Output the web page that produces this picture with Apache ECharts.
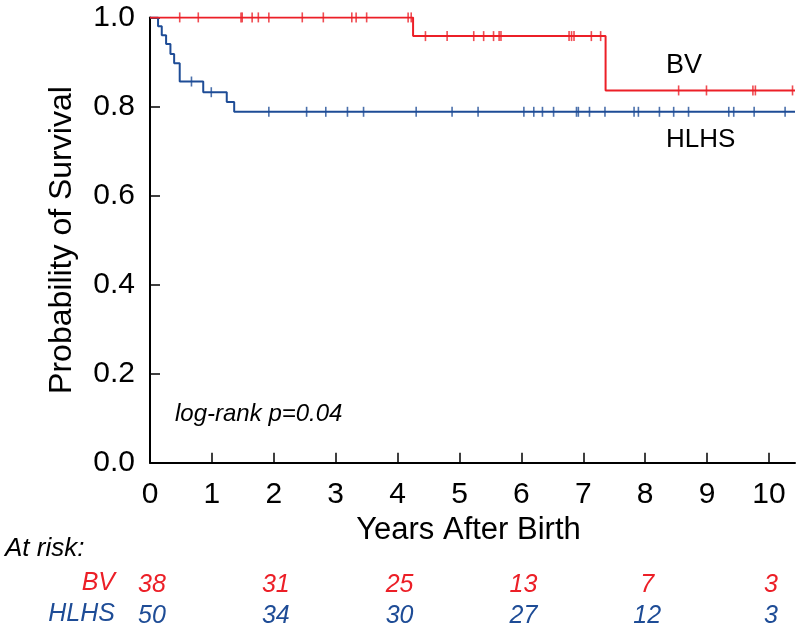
<!DOCTYPE html>
<html><head><meta charset="utf-8">
<script src="https://cdn.jsdelivr.net/npm/echarts@6/dist/echarts.min.js"></script>
<style>html,body{margin:0;padding:0;background:#fff}#c{width:800px;height:633px}</style>
</head><body><div id="c"></div>
<script>
// ---- data ----
const xTicks = [0,1,2,3,4,5,6,7,8,9,10];
const yTicks = [0,0.2,0.4,0.6,0.8,1.0];
// Kaplan-Meier step points [time, survival]
const bvSteps = [[0,1.0],[4.25,0.958],[7.36,0.836],[10.42,0.836]];
const hlhsSteps = [[0,1.0],[0.13,0.98],[0.19,0.96],[0.26,0.94],[0.33,0.918],[0.39,0.897],[0.48,0.856],[0.86,0.832],[1.24,0.81],[1.36,0.788],[10.42,0.788]];
// censoring times
const bvCensor = [0.48,0.78,1.47,1.49,1.65,1.75,1.92,2.46,2.80,3.26,3.33,3.50,4.17,4.22,
  4.45,4.80,5.23,5.39,5.55,5.64,5.67,6.77,6.81,6.85,7.13,7.28,
  8.54,8.99,9.74,9.78,10.38];
const hlhsCensor = [0.67,0.99,1.92,2.53,2.84,3.19,3.45,4.30,4.88,5.30,6.04,6.20,6.34,6.52,6.89,6.92,7.10,7.35,7.82,7.89,8.23,8.46,8.70,9.35,9.43,9.76,10.26];
// at-risk table
const riskTimes = [0,2,4,6,8,10];
const bvRisk = [38,31,25,13,7,3];
const hlhsRisk = [50,34,30,27,12,3];

const RED = '#EC1F27', BLUE = '#1E4C96';
const FONT = 'Liberation Sans, Arial, Helvetica, sans-serif';

function survAt(steps, t){ let s = steps[0][1]; for (const p of steps){ if (p[0] <= t) s = p[1]; } return s; }

const chart = echarts.init(document.getElementById('c'), null, {renderer:'canvas'});
const option = {
  animation:false,
  backgroundColor:'#fff',
  grid:{left:150, top:17.4, width:645, height:445.3},
  xAxis:{type:'value', min:0, max:10.42, interval:1,
    name:'Years After Birth', nameLocation:'middle', nameGap:50,
    nameTextStyle:{fontSize:31, color:'#000', fontFamily:FONT, padding:[0,8,0,0]},
    axisLine:{lineStyle:{color:'#000', width:2}},
    axisTick:{inside:true, length:10, lineStyle:{color:'#000', width:1.5}, customValues:xTicks},
    axisLabel:{fontSize:30, color:'#000', fontFamily:FONT, margin:17, customValues:xTicks},
    splitLine:{show:false}},
  yAxis:{type:'value', min:0, max:1, interval:0.2,
    name:'Probability of Survival', nameLocation:'middle', nameGap:72,
    nameTextStyle:{fontSize:32, color:'#000', fontFamily:FONT},
    axisLine:{lineStyle:{color:'#000', width:2}},
    axisTick:{inside:true, length:10, lineStyle:{color:'#000', width:1.5}, customValues:yTicks},
    axisLabel:{fontSize:30, color:'#000', fontFamily:FONT, margin:15, customValues:yTicks, formatter:v=>v.toFixed(1)},
    splitLine:{show:false}},
  series:[
    {type:'line', step:'end', data:hlhsSteps, symbol:'none', lineStyle:{color:BLUE, width:2}, z:3},
    {type:'line', step:'end', data:bvSteps, symbol:'none', lineStyle:{color:RED, width:2}, z:4},
    {type:'scatter', data:hlhsCensor.map(t=>[t, survAt(hlhsSteps,t)]), symbol:'rect', symbolSize:[1.6,10], itemStyle:{color:BLUE}, z:3},
    {type:'scatter', data:bvCensor.map(t=>[t, survAt(bvSteps,t)]), symbol:'rect', symbolSize:[1.6,10], itemStyle:{color:RED}, z:4}
  ]
};
chart.setOption(option);

const g = [];
g.push({type:'text', left:175, top:402, style:{text:'log-rank p=0.04', font:'italic 24px '+FONT, fill:'#000'}});
g.push({type:'text', left:666, top:52, style:{text:'BV', font:'27px '+FONT, fill:'#000'}});
g.push({type:'text', left:666, top:127, style:{text:'HLHS', font:'26px '+FONT, fill:'#000'}});
g.push({type:'text', left:5, top:536, style:{text:'At risk:', font:'italic 26px '+FONT, fill:'#000'}});
g.push({type:'text', right:800-115, top:571, style:{text:'BV', font:'italic 25px '+FONT, fill:RED, align:'right'}});
g.push({type:'text', right:800-115, top:602, style:{text:'HLHS', font:'italic 25px '+FONT, fill:BLUE, align:'right'}});
riskTimes.forEach((t,i)=>{
  const px = chart.convertToPixel({gridIndex:0}, [t,0])[0];
  g.push({type:'text', x:px+2, y:585, style:{text:String(bvRisk[i]), font:'italic 25px '+FONT, fill:RED, align:'center', verticalAlign:'middle'}});
  g.push({type:'text', x:px+2, y:616, style:{text:String(hlhsRisk[i]), font:'italic 25px '+FONT, fill:BLUE, align:'center', verticalAlign:'middle'}});
});
chart.setOption({graphic:g});
</script></body></html>
